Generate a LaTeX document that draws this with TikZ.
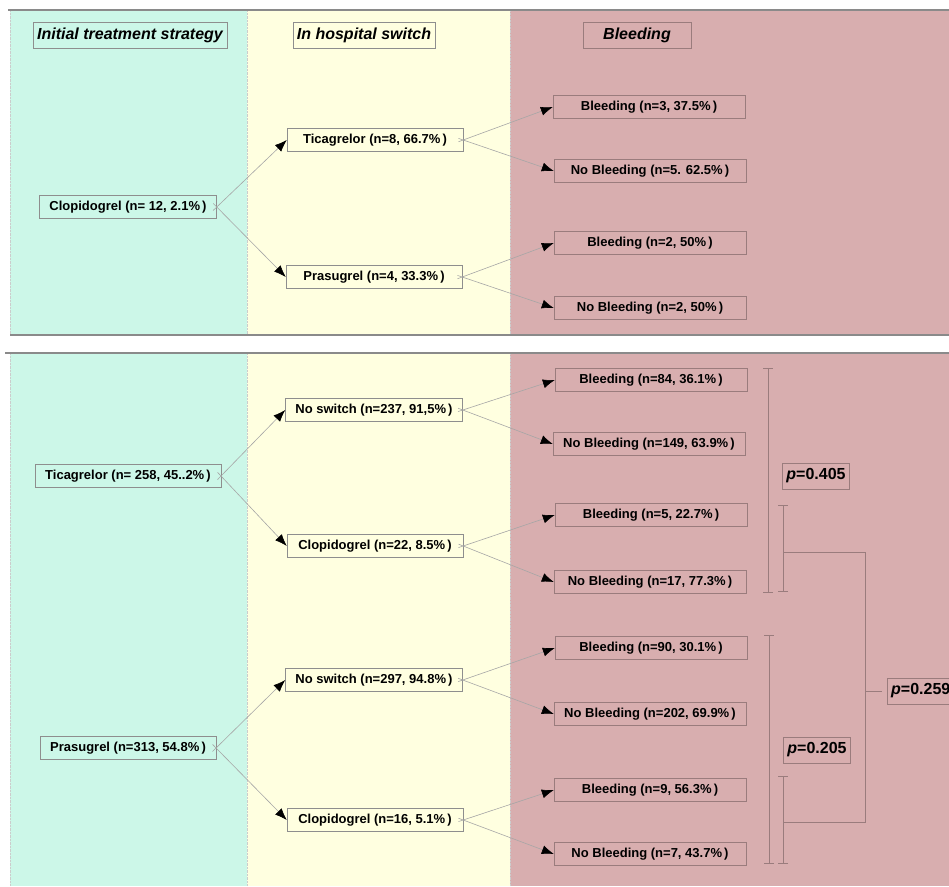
\documentclass[tikz,border=0pt]{standalone}
\usepackage{fontspec}
\setmainfont{Liberation Sans}
\usetikzlibrary{arrows.meta}

\definecolor{stratcol}{HTML}{CCF7E8}
\definecolor{switchcol}{HTML}{FFFFE0}
\definecolor{bleedcol}{HTML}{D8AEAF}
\definecolor{boxline}{HTML}{8E8E8E}
\definecolor{pinkline}{HTML}{9A7C7D}
\definecolor{rule}{HTML}{8A8A8A}

\tikzset{
    head/.style={draw=boxline, font=\fontsize{16}{18}\selectfont\bfseries\itshape,
        inner xsep=4pt, minimum height=26pt},
    stratbox/.style={draw=boxline, font=\fontsize{13}{15}\selectfont\bfseries,
        inner xsep=10pt, minimum height=23pt},
    switchbox/.style={stratbox, minimum width=176pt},
    bleedbox/.style={stratbox, draw=pinkline, minimum width=192pt},
    pbox/.style={draw=pinkline, font=\fontsize{16}{18}\selectfont\bfseries,
        inner xsep=4pt, minimum height=26pt},
    branch/.style={draw=gray!70, line width=0.6pt, shorten <=-5pt,
        -{Latex[length=12pt,width=9pt,color=black]}},
    bracket/.style={draw=pinkline, line width=0.9pt,
        {Bar[width=10pt]}-{Bar[width=10pt]}},
    link/.style={draw=pinkline, line width=0.9pt},
}

\begin{document}
\begin{tikzpicture}[x=1pt, y=-1pt]
    \useasboundingbox (0,0) rectangle (949,886);
    \clip (0,0) rectangle (949,886);

    \fill[stratcol] (10,10) rectangle (247,335);
    \fill[switchcol] (247,10) rectangle (510,335);
    \fill[bleedcol] (510,10) rectangle (949,335);
    \fill[stratcol] (10,353) rectangle (247,886);
    \fill[switchcol] (247,353) rectangle (510,886);
    \fill[bleedcol] (510,353) rectangle (949,886);
    \draw[gray!40, densely dotted] (10,10) -- (10,335) (247,10) -- (247,335) (510,10) -- (510,335);
    \draw[gray!40, densely dotted] (10,353) -- (10,886) (247,353) -- (247,886) (510,353) -- (510,886);
    \draw[rule, line width=1.2pt] (8,10) -- (949,10);
    \draw[rule, line width=1.2pt] (10,335) -- (949,335);
    \draw[rule, line width=1.2pt] (5,353) -- (949,353);

    \node[head] (H1) at (130,35) {Initial treatment strategy};
    \node[head] (H2) at (364,35) {In hospital switch};
    \node[head, draw=pinkline, minimum width=108pt] (H3) at (637,35) {Bleeding};

    \node[stratbox] (S1) at (128,207) {Clopidogrel (n= 12, 2.1\%\,)};
    \node[switchbox] (W1) at (375,140) {Ticagrelor (n=8, 66.7\%\,)};
    \node[switchbox] (W2) at (374,277) {Prasugrel (n=4, 33.3\%\,)};
    \node[bleedbox] (B1) at (649,107) {Bleeding (n=3, 37.5\%\,)};
    \node[bleedbox] (B2) at (650,171) {No Bleeding (n=5. 62.5\%\,)};
    \node[bleedbox] (B3) at (650,243) {Bleeding (n=2, 50\%\,)};
    \node[bleedbox] (B4) at (650,308) {No Bleeding (n=2, 50\%\,)};

    \draw[branch] (S1.east) -- (W1.west);
    \draw[branch] (S1.east) -- (W2.west);
    \draw[branch] (W1.east) -- (B1.west);
    \draw[branch] (W1.east) -- (B2.west);
    \draw[branch] (W2.east) -- (B3.west);
    \draw[branch] (W2.east) -- (B4.west);

    \node[stratbox] (S2) at (128,476) {Ticagrelor (n= 258, 45..2\%\,)};
    \node[switchbox] (W3) at (374,410) {No switch (n=237, 91,5\%\,)};
    \node[switchbox] (W4) at (375,546) {Clopidogrel (n=22, 8.5\%\,)};
    \node[bleedbox] (B5) at (651,380) {Bleeding (n=84, 36.1\%\,)};
    \node[bleedbox] (B6) at (649,444) {No Bleeding (n=149, 63.9\%\,)};
    \node[bleedbox] (B7) at (651,515) {Bleeding (n=5, 22.7\%\,)};
    \node[bleedbox] (B8) at (650,582) {No Bleeding (n=17, 77.3\%\,)};

    \node[stratbox] (S3) at (128,748) {Prasugrel (n=313, 54.8\%\,)};
    \node[switchbox] (W5) at (374,680) {No switch (n=297, 94.8\%\,)};
    \node[switchbox] (W6) at (375,820) {Clopidogrel (n=16, 5.1\%\,)};
    \node[bleedbox] (B9) at (651,648) {Bleeding (n=90, 30.1\%\,)};
    \node[bleedbox] (B10) at (650,714) {No Bleeding (n=202, 69.9\%\,)};
    \node[bleedbox] (B11) at (650,790) {Bleeding (n=9, 56.3\%\,)};
    \node[bleedbox] (B12) at (650,854) {No Bleeding (n=7, 43.7\%\,)};

    \draw[branch] (S2.east) -- (W3.west);
    \draw[branch] (S2.east) -- (W4.west);
    \draw[branch] (W3.east) -- (B5.west);
    \draw[branch] (W3.east) -- (B6.west);
    \draw[branch] (W4.east) -- (B7.west);
    \draw[branch] (W4.east) -- (B8.west);
    \draw[branch] (S3.east) -- (W5.west);
    \draw[branch] (S3.east) -- (W6.west);
    \draw[branch] (W5.east) -- (B9.west);
    \draw[branch] (W5.east) -- (B10.west);
    \draw[branch] (W6.east) -- (B11.west);
    \draw[branch] (W6.east) -- (B12.west);

    \node[pbox] (P1) at (816,476) {\textit{p}=0.405};
    \node[pbox] (P2) at (817,750) {\textit{p}=0.205};
    \node[pbox, anchor=west] (P3) at (887,691) {\textit{p}=0.259};

    \coordinate (T1) at (768,368);
    \coordinate (T2) at (768,593);
    \coordinate (T3) at (783,505);
    \coordinate (T4) at (783,592);
    \coordinate (U1) at (769,635);
    \coordinate (U2) at (769,864);
    \coordinate (U3) at (783,776);
    \coordinate (U4) at (783,864);
    \coordinate (J1) at (783,552);
    \coordinate (J2) at (865,552);
    \coordinate (J3) at (865,822);
    \coordinate (J4) at (783,822);
    \coordinate (J5) at (865,691);

    \draw[bracket] (T1) -- (T2);
    \draw[bracket] (T3) -- (T4);
    \draw[bracket] (U1) -- (U2);
    \draw[bracket] (U3) -- (U4);
    \draw[link] (J1) -- (J2) -- (J3) -- (J4);
    \draw[link, shorten >=5pt] (J5) -- (P3.west);
\end{tikzpicture}
\end{document}
